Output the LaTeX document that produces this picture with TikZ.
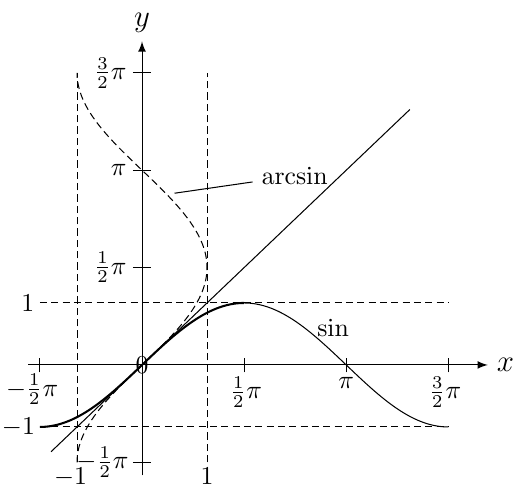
\documentclass[tikz,border=0pt]{standalone}
\usepackage{amsmath}
\begin{document}
\begin{tikzpicture}[>=latex,x=0.887cm,y=0.846cm,dsh/.style={dash pattern=on 2.8pt off 1.6pt}]
		\useasboundingbox (-2.185,-1.984) rectangle (5.738,5.887);
		\draw[->] (-1.75,0) -- (5.32,0) node[right] (xl) {\large$x$};\draw[->] (0,-1.78) -- (0,5.22) node[above] (yl) {\large$y$};
		\foreach \t in {-1,1,2,3} {\draw (\t*pi/2,-0.12) -- (\t*pi/2,0.12);\draw (-0.14,\t*pi/2) -- (0.14,\t*pi/2);}
		\node[below,inner sep=1pt] (xm) at (-pi/2-0.12,-0.1) {$-\frac12\pi$};\node[below] (xa) at (pi/2+0.03,-0.05) {$\frac12\pi$};\node[below] (xb) at (pi,-0.05) {$\pi$};\node[below] (xc) at (3*pi/2-0.05,-0.05) {$\frac32\pi$};
		\node[left,inner sep=1pt] (ym) at (-0.16,-pi/2) {$-\frac12\pi$};\node[left] (ya) at (-0.1,pi/2) {$\frac12\pi$};\node[left] (yb) at (-0.1,pi) {$\pi$};\node[left] (yc) at (-0.1,3*pi/2) {$\frac32\pi$};
		\draw[dsh] (-pi/2,1) -- (3*pi/2,1);\draw[dsh] (-pi/2,-1) -- (3*pi/2,-1);\node[left,inner sep=2pt] (one) at (-pi/2,1) {$1$};\node[left,inner sep=1pt] (mone) at (-pi/2-0.03,-1) {$-1$};
		\draw[dsh] (-1,-pi/2) -- (-1,3*pi/2);\draw[dsh] (1,-pi/2) -- (1,3*pi/2);\node[below,inner sep=0.5pt,yshift=-1.5pt,xshift=-2.5pt] (bm) at (-1,-pi/2) {$-1$};\node[below,inner sep=0.5pt,yshift=-1.5pt] (bp) at (1,-pi/2) {$1$};
		\draw (-1.4,-1.4) -- (4.12,4.12);
		\draw[line width=0.8pt,domain=-pi/2:pi/2,samples=80] plot (\x,{sin(\x r)});\draw[domain=pi/2:3*pi/2,samples=80] plot (\x,{sin(\x r)});
		\draw[dsh,domain=-pi/2:3*pi/2,samples=120] plot ({sin(\x r)},\x);
		\node (o) at (0,0) {$0$};\node (sinl) at (2.94,0.6) {$\sin$};
		\coordinate (asn) at (0.5,2.77);\node[anchor=west] (asnl) at (1.7,3.05) {$\arcsin$};\draw (asn) -- (asnl);
	\end{tikzpicture}
\end{document}
